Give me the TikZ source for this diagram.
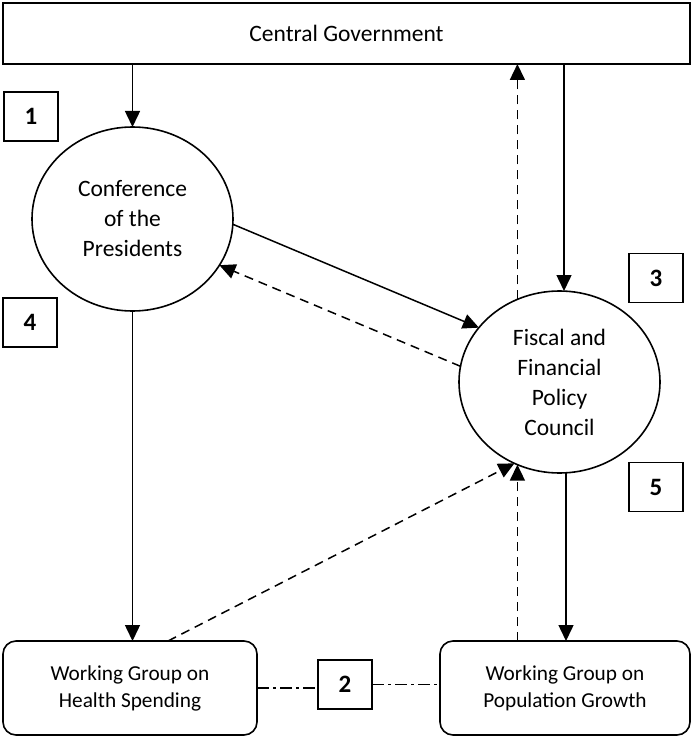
\documentclass[tikz,border=0pt]{standalone}
\usepackage{fontspec}
\setmainfont{Carlito}
\usetikzlibrary{arrows.meta,shapes.geometric}
\begin{document}
\begin{tikzpicture}[x=1pt,y=-1pt,
  every node/.style={inner sep=0pt, outer sep=0pt},
  govbox/.style={draw, line width=1.6pt, minimum width=687pt, minimum height=61pt,
    font=\fontsize{23.5}{30}\selectfont},
  body/.style={draw, ellipse, line width=1.6pt, minimum width=201pt, minimum height=184pt,
    align=center, font=\fontsize{23.5}{30}\selectfont},
  group/.style={draw, rounded corners=13pt, line width=1.6pt, minimum height=94pt,
    align=center, font=\fontsize{21.3}{27}\selectfont},
  numbox/.style={draw, line width=1.6pt, minimum width=54pt, minimum height=49pt,
    font=\fontsize{25}{28}\selectfont\bfseries},
  link/.style={line width=1.5pt},
  arr/.style={link, -{Triangle[length=16pt,width=15pt]}},
  dsh/.style={link, dash pattern=on 9pt off 6pt},
  dashdot/.style={link, dash pattern=on 12pt off 4pt on 3pt off 4pt}]
\useasboundingbox (0,0) rectangle (693,738);

% boxes and councils
\node[govbox] (gov) at (346.5,33.5) {Central Government};
\node[body] (conf) at (132.5,219) {Conference\\of the\\Presidents};
\node[body, minimum height=182pt] (fisc) at (559.5,382) {Fiscal and\\Financial\\Policy\\Council};
\node[group, minimum width=254pt] (health) at (130,688) {Working Group on\\Health Spending};
\node[group, minimum width=250pt] (pop) at (565,688) {Working Group on\\Population Growth};

% numbered tags
\node[numbox] (n1) at (31,116.5) {1};
\node[numbox] (n4) at (30,322.5) {4};
\node[numbox] (n3) at (656,278) {3};
\node[numbox] (n5) at (656,487) {5};
\node[numbox] (n2) at (345,684.5) {2};

% flows from the central government
\draw[arr] (conf.north |- gov.south) -- (conf.north);
\draw[arr] ([xshift=4.5pt]fisc.north |- gov.south) -- ([xshift=4.5pt]fisc.north);
\draw[dsh, arr] (fisc.117.3) -- (fisc.117.3 |- gov.south);

% between the two councils
\draw[arr] (conf.-3.5) -- (fisc.146);
\draw[dsh, arr] (fisc.171) -- (conf.-28);

% down to the working groups and back
\draw[arr] (conf.south) -- (conf.south |- health.north);
\draw[arr] ([xshift=6.5pt]fisc.south) -- ([xshift=6.5pt]fisc.south |- pop.north);
\draw[dsh, arr] ([xshift=38pt]health.north) -- (fisc.-119.8);
\draw[dsh, arr] (fisc.-117.3 |- pop.north) -- (fisc.-117.3);

% link between the working groups
\draw[dashdot] (health.east) -- (health.east -| n2.west);
\draw[dashdot] (n2.east) -- (n2.east -| pop.west);
\end{tikzpicture}
\end{document}
